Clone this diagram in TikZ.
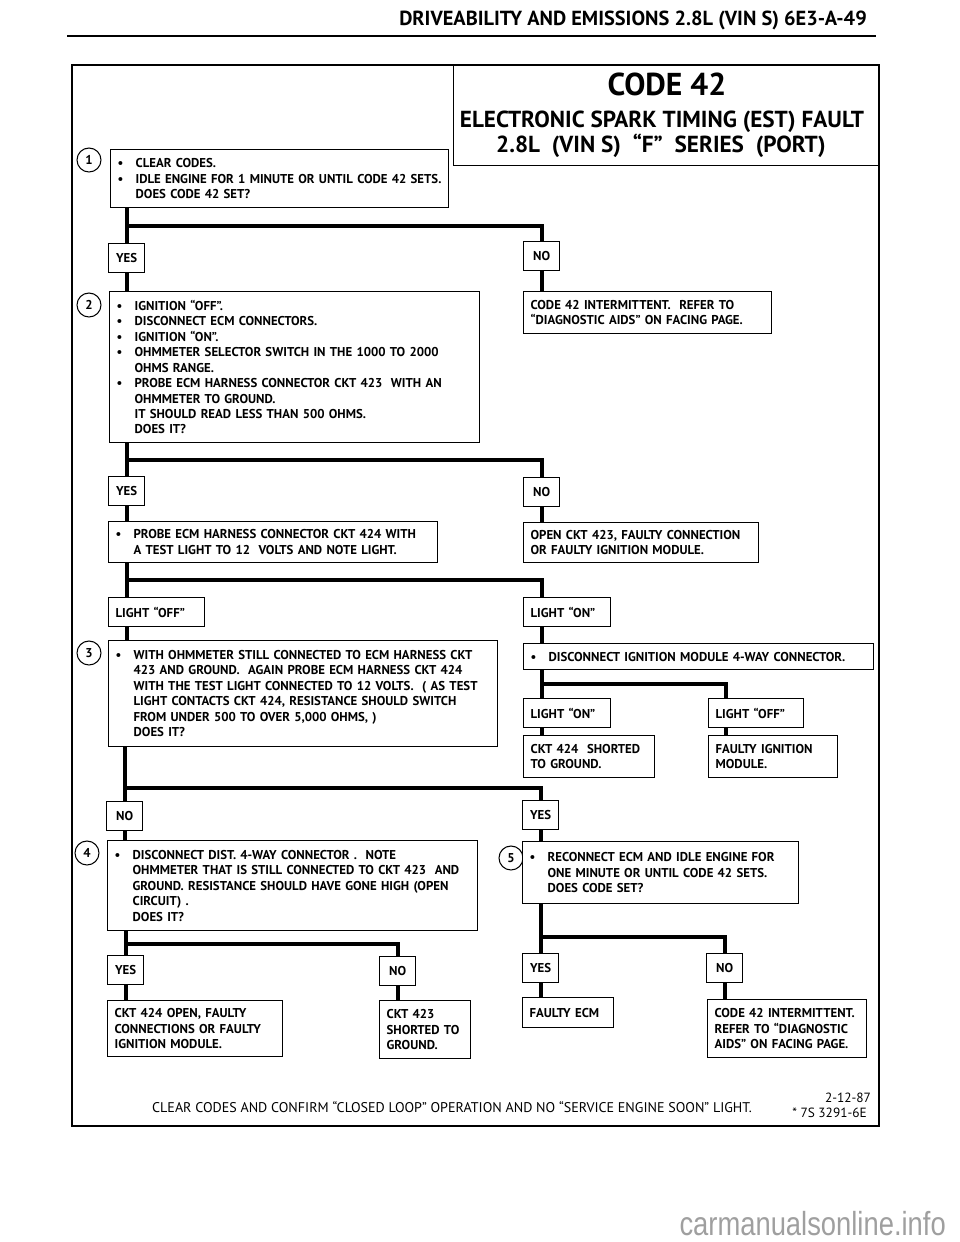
\documentclass[tikz,border=0pt]{standalone}
\usepackage{fontspec}
\setmainfont{PT Sans}
\newfontfamily\markfont{Liberation Sans}[FakeStretch=0.82]
\usetikzlibrary{backgrounds}
\newcommand{\bodyfont}{\bfseries\fontsize{7.3}{8.8}\selectfont}
\newcommand{\bul}{\makebox[0.36cm][l]{\textbullet}}
\newcommand{\ind}{\hspace*{0.36cm}}

\begin{document}
\begin{tikzpicture}[x=0.02cm, y=-0.02cm,
        box/.style={draw, fill=white, line width=0.7pt, anchor=north west, align=left, inner xsep=0.14cm, inner ysep=0.05cm, font=\bodyfont},
        answer/.style={draw, fill=white, line width=0.7pt, anchor=north west, minimum width=0.72cm, minimum height=0.58cm, inner xsep=0.14cm, inner ysep=0pt, font=\bodyfont},
        trunk/.style={line width=2.2pt},
        stepnum/.style={circle, draw, line width=0.6pt, minimum size=0.48cm, inner sep=0pt, font=\bodyfont}]
    \useasboundingbox (0,0) rectangle (960,1242);
    \node[anchor=east, font=\bfseries\fontsize{11.6}{13}\selectfont] (head) at (873,20) {DRIVEABILITY AND EMISSIONS 2.8L (VIN S) 6E3-A-49};
    \draw[line width=1.2pt] (67,36) -- (876,36);
    \draw[line width=1.5pt] (72,65) rectangle (879,1126);
    \node[draw, line width=0.7pt, anchor=north west, minimum width=8.52cm, minimum height=2cm] (titlebox) at (453,65) {};
    \node[font=\bfseries\fontsize{18}{20}\selectfont] (code) at (667,84) {CODE 42};
    \node[font=\bfseries\fontsize{13.2}{15}\selectfont] (est) at (662,122) {ELECTRONIC SPARK TIMING (EST) FAULT};
    \node[font=\bfseries\fontsize{13.2}{15}\selectfont] (port) at (661,146) {2.8L\ \ (VIN S)\ \ “F”\ \ SERIES\ \ (PORT)};
    \node[stepnum] (s1) at (89,160) {1};
    \node[box, text width=6.48cm, minimum height=1.16cm] (b1) at (110,149) {\bul CLEAR CODES.\\\bul IDLE ENGINE FOR 1 MINUTE OR UNTIL CODE 42 SETS.\\\ind DOES CODE 42 SET?};
    \node[answer] (y1) at (108,243) {YES};
    \node[answer] (n1) at (523,241) {NO};
    \node[stepnum] (s2) at (89,305) {2};
    \node[box, text width=7.12cm, minimum height=3.02cm] (b2) at (109,291) {\bul IGNITION “OFF”.\\\bul DISCONNECT ECM CONNECTORS.\\\bul IGNITION “ON”.\\\bul OHMMETER SELECTOR SWITCH IN THE 1000 TO 2000\\\ind OHMS RANGE.\\\bul PROBE ECM HARNESS CONNECTOR CKT 423\ \ WITH AN\\\ind OHMMETER TO GROUND.\\\ind IT SHOULD READ LESS THAN 500 OHMS.\\\ind DOES IT?};
    \node[box, text width=4.68cm, minimum height=0.84cm] (r1) at (523,291) {CODE 42 INTERMITTENT.\ \ REFER TO\\“DIAGNOSTIC AIDS” ON FACING PAGE.};
    \node[answer] (y2) at (108,476) {YES};
    \node[answer] (n2) at (523,477) {NO};
    \node[box, text width=6.3cm, minimum height=0.82cm] (b3) at (108,521) {\bul PROBE ECM HARNESS CONNECTOR CKT 424 WITH\\\ind A TEST LIGHT TO 12\ \ VOLTS AND NOTE LIGHT.};
    \node[box, text width=4.42cm, minimum height=0.8cm] (r2) at (523,522) {OPEN CKT 423, FAULTY CONNECTION\\OR FAULTY IGNITION MODULE.};
    \node[answer, text width=1.64cm, align=left] (lo1) at (108,597) {LIGHT “OFF”};
    \node[answer, text width=1.46cm, align=left] (ln1) at (523,597) {LIGHT “ON”};
    \node[stepnum] (s3) at (89,653) {3};
    \node[box, text width=7.5cm, minimum height=2.12cm] (b4) at (108,640) {\bul WITH OHMMETER STILL CONNECTED TO ECM HARNESS CKT\\\ind 423 AND GROUND.\ \ AGAIN PROBE ECM HARNESS CKT 424\\\ind WITH THE TEST LIGHT CONNECTED TO 12 VOLTS.\ \ ( AS TEST\\\ind LIGHT CONTACTS CKT 424, RESISTANCE SHOULD SWITCH\\\ind FROM UNDER 500 TO OVER 5,000 OHMS, )\\\ind DOES IT?};
    \node[box, text width=6.72cm, minimum height=0.52cm] (r3) at (523,643) {\bul DISCONNECT IGNITION MODULE 4-WAY CONNECTOR.};
    \node[answer, text width=1.46cm, align=left] (ln2) at (523,698) {LIGHT “ON”};
    \node[answer, text width=1.62cm, align=left] (lo2) at (708,698) {LIGHT “OFF”};
    \node[box, text width=2.34cm, minimum height=0.84cm] (r4) at (523,735) {CKT 424\ \ SHORTED\\TO GROUND.};
    \node[box, text width=2.3cm, minimum height=0.84cm] (r5) at (708,735) {FAULTY IGNITION\\MODULE.};
    \node[answer] (n3) at (106,801) {NO};
    \node[answer] (y3) at (522,800) {YES};
    \node[stepnum] (s4) at (87,853) {4};
    \node[box, text width=7.12cm, minimum height=1.8cm] (b5) at (107,840) {\bul DISCONNECT DIST. 4-WAY CONNECTOR .\ \ NOTE\\\ind OHMMETER THAT IS STILL CONNECTED TO CKT 423\ \ AND\\\ind GROUND. RESISTANCE SHOULD HAVE GONE HIGH (OPEN\\\ind CIRCUIT) .\\\ind DOES IT?};
    \node[stepnum] (s5) at (511,858) {5};
    \node[box, text width=5.24cm, minimum height=1.24cm] (b6) at (522,841) {\bul RECONNECT ECM AND IDLE ENGINE FOR\\\ind ONE MINUTE OR UNTIL CODE 42 SETS.\\\ind DOES CODE SET?};
    \node[answer] (y4) at (107,955) {YES};
    \node[answer] (n4) at (379,956) {NO};
    \node[answer] (y5) at (522,953) {YES};
    \node[answer] (n5) at (706,953) {NO};
    \node[box, text width=3.22cm, minimum height=1.12cm] (l1) at (107,1000) {CKT 424 OPEN, FAULTY\\CONNECTIONS OR FAULTY\\IGNITION MODULE.};
    \node[box, text width=1.54cm, minimum height=1.16cm] (l2) at (379,1000) {CKT 423\\SHORTED TO\\GROUND.};
    \node[box, text width=1.54cm, minimum height=0.6cm] (r7) at (522,997) {FAULTY ECM};
    \node[box, text width=2.9cm, minimum height=1.16cm] (r8) at (707,999) {CODE 42 INTERMITTENT.\\REFER TO “DIAGNOSTIC\\AIDS” ON FACING PAGE.};
    \node[font=\fontsize{8}{9}\selectfont] (foot) at (452,1107) {CLEAR CODES AND CONFIRM “CLOSED LOOP” OPERATION AND NO “SERVICE ENGINE SOON” LIGHT.};
    \node[font=\fontsize{7.6}{8}\selectfont] (date) at (848,1098) {2-12-87};
    \node[anchor=east, font=\fontsize{7.6}{8}\selectfont] (ref) at (873,1113) {* 7S 3291-6E};
    \node[anchor=east, text=gray!75, font=\markfont\fontsize{19}{21}\selectfont] (mark) at (952,1224) {carmanualsonline.info};
    \coordinate (j1) at (0,226);
    \coordinate (j2) at (0,460);
    \coordinate (j3) at (0,580);
    \coordinate (k1) at (726,684);
    \coordinate (j4) at (0,788);
    \coordinate (j5) at (0,944);
    \coordinate (j6) at (0,937);
    \begin{scope}[on background layer]
        \draw[trunk] (y1 |- b1.south) -- (y1 |- b2.north);
        \draw[trunk] (y1 |- j1) -| (n1 |- r1.north);
        \draw[trunk] (y2 |- b2.south) -- (y2 |- b3.north);
        \draw[trunk] (y2 |- j2) -| (n2 |- r2.north);
        \draw[trunk] (y2 |- b3.south) -- (y2 |- b4.north);
        \draw[trunk] (y2 |- j3) -| (n2 |- r3.north);
        \draw[trunk] (n2 |- r3.south) -- (n2 |- r4.north);
        \draw[trunk] (n2 |- k1) -| (k1 |- r5.north);
        \draw[trunk] (n3 |- b4.south) -- (n3 |- b5.north);
        \draw[trunk] (n3 |- j4) -| (y3 |- b6.north);
        \draw[trunk] (y4 |- b5.south) -- (y4 |- l1.north);
        \draw[trunk] (y4 |- j5) -| (n4 |- l2.north);
        \draw[trunk] (y5 |- b6.south) -- (y5 |- r7.north);
        \draw[trunk] (y5 |- j6) -| (n5 |- r8.north);
    \end{scope}
\end{tikzpicture}
\end{document}
